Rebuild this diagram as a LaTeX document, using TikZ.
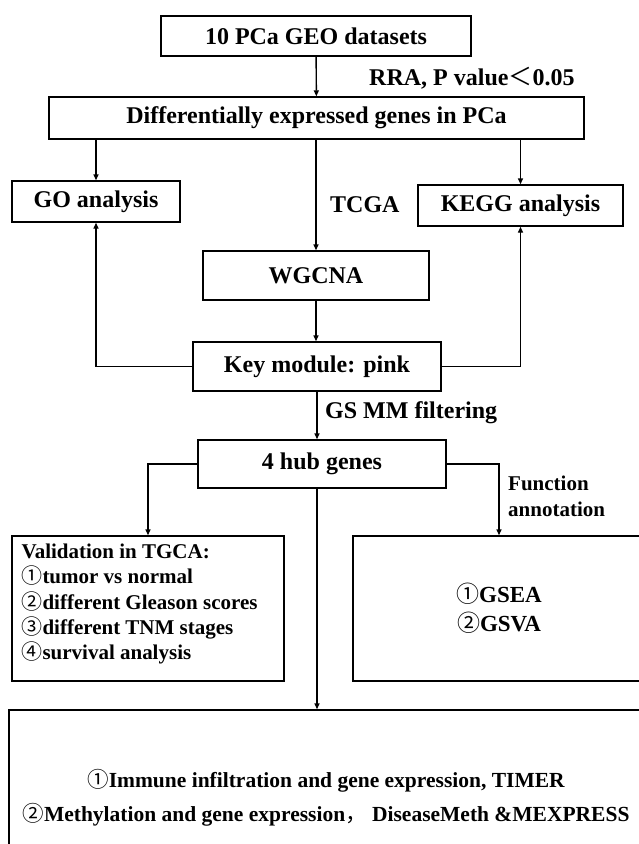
\documentclass[tikz,border=0pt]{standalone}
\usepackage{fontspec}
\setmainfont{Liberation Serif}
\newfontfamily\cjkfont{Noto Sans CJK SC}
\newcommand{\circnum}[1]{{\cjkfont\mdseries #1}}
\usepackage{tikz}
\usetikzlibrary{arrows.meta,positioning,calc}

\begin{document}
\begin{tikzpicture}[
  x=1pt, y=-1pt,
  box/.style={rectangle,draw=black,line width=1.4pt,inner sep=0pt,
              font=\fontsize{24}{28}\selectfont\bfseries},
  arr/.style={line width=1.4pt,-{Triangle[length=6pt,width=5pt]}},
  lbl/.style={inner sep=0pt,font=\fontsize{24}{28}\selectfont\bfseries},
  small/.style={inner sep=0pt,align=left,
                font=\fontsize{21}{25.3}\selectfont\bfseries},
]
  \useasboundingbox (0,0) rectangle (639,844);
  \clip (0,0) rectangle (639,844);

  %% main column
  \node[box,minimum width=310pt,minimum height=40pt] (geo) at (316,36)
    {10 PCa GEO datasets};
  \node[box,minimum width=535pt,minimum height=42pt] (deg) at (316.5,118)
    {Differentially expressed genes in PCa};
  \node[box,minimum width=168pt,minimum height=41pt] (go) at (96,201.5)
    {GO analysis};
  \node[box,minimum width=205pt,minimum height=41pt] (kegg) at (520.5,205.5)
    {KEGG analysis};
  \node[box,minimum width=226pt,minimum height=49pt] (wgcna) at (316,275.5)
    {WGCNA};
  \node[box,minimum width=248pt,minimum height=49pt] (key) at (317,366.5)
    {Key module: pink};
  \node[box,minimum width=248pt,minimum height=48pt] (hub) at (322,464)
    {4 hub genes};

  %% lower boxes
  \node[box,minimum width=272pt,minimum height=145pt] (val) at (148,608.5) {};
  \node[small,anchor=north west] (valtxt) at ($(val.north west)+(10,8.5)$)
    {Validation in TGCA:\\
     \circnum{①}tumor vs normal\\
     \circnum{②}different Gleason scores\\
     \circnum{③}different TNM stages\\
     \circnum{④}survival analysis};
  \node[box,minimum width=292pt,minimum height=145pt,align=center,
        font=\fontsize{23}{29}\selectfont\bfseries] (gsea) at (499,608.5)
    {\circnum{①}GSEA\\ \circnum{②}GSVA};
  \node[box,minimum width=634pt,minimum height=176pt,align=center,
        font=\fontsize{21.5}{34}\selectfont\bfseries] (bot) at (326,798)
    {\circnum{①}Immune infiltration and gene expression, TIMER\\
     \circnum{②}Methylation and gene expression\circnum{，}\ DiseaseMeth~\&MEXPRESS};

  %% labels
  \node[lbl,anchor=west] (rra) at (369,78)
    {RRA, P value\circnum{＜}0.05};
  \node[lbl,anchor=west] (tcga) at (330,205) {TCGA};
  \node[lbl,anchor=west] (gsmm) at (325,413) {GS MM filtering};
  \node[small,anchor=north west] (func) at (508,476)
    {Function\\annotation};

  %% connectors
  \draw[arr] (geo) -- (deg);
  \foreach \n in {go,wgcna,kegg}{%
    \draw[arr] (deg.south -| \n) -- (\n.north);}
  \draw[arr] (wgcna.south) -- (wgcna.south |- key.north);
  \draw[arr] (key.west) -| (go.south);
  \draw[arr] (key.east) -| (kegg.south);
  \draw[arr] (key.south) -- (key.south |- hub.north);
  \draw[arr] (hub.west) -| (val.north);
  \draw[arr] (hub.east) -| (gsea.north);
  \draw[arr] (key.south |- hub.south) -- (key.south |- bot.north);
\end{tikzpicture}
\end{document}
